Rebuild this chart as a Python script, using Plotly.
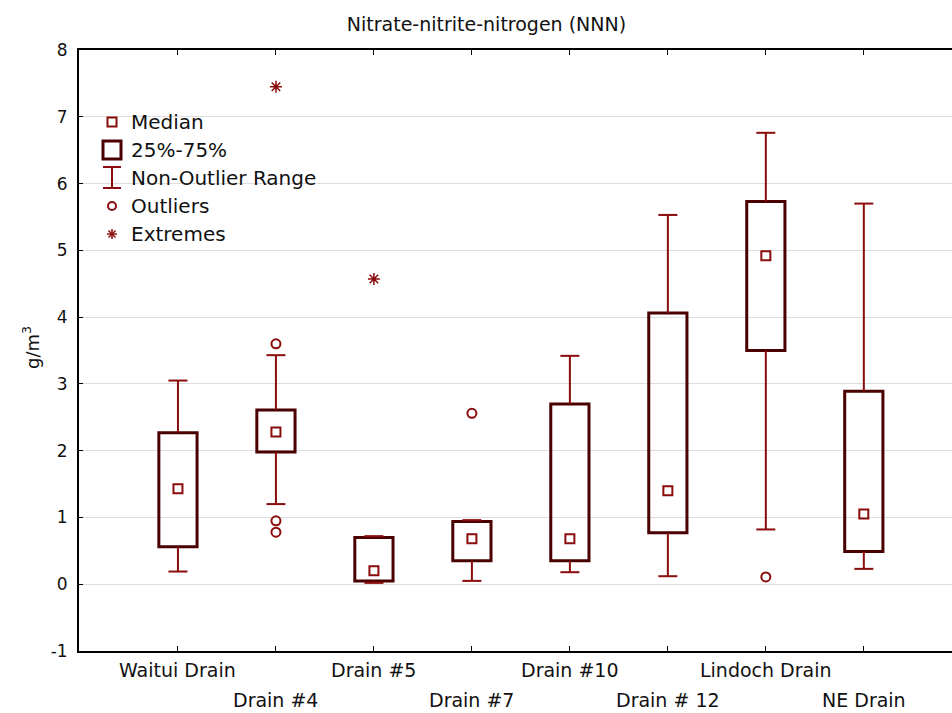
import plotly.graph_objects as go

# ---- data: nitrate-nitrite-nitrogen by drain (g/m3) ----
categories = ["Waitui Drain", "Drain #4", "Drain #5", "Drain #7",
              "Drain #10", "Drain # 12", "Lindoch Drain", "NE Drain"]
medians = [1.43, 2.28, 0.20, 0.68, 0.68, 1.40, 4.92, 1.05]
q1 = [0.56, 1.98, 0.05, 0.35, 0.35, 0.77, 3.50, 0.49]
q3 = [2.27, 2.61, 0.70, 0.94, 2.70, 4.06, 5.73, 2.89]
whisker_low = [0.19, 1.20, 0.02, 0.05, 0.18, 0.12, 0.82, 0.23]
whisker_high = [3.05, 3.43, 0.72, 0.96, 3.42, 5.53, 6.76, 5.70]

outlier_cat = ["Drain #4", "Drain #4", "Drain #4", "Drain #7", "Lindoch Drain"]
outlier_val = [3.60, 0.95, 0.78, 2.56, 0.11]
extreme_cat = ["Drain #4", "Drain #5"]
extreme_val = [7.45, 4.57]

y_ticks = [-1, 0, 1, 2, 3, 4, 5, 6, 7, 8]
y_tick_labels = ["-1", "0", "1", "2", "3", "4", "5", "6", "7", "8"]

# ---- styling ----
BOX_COLOR = "#4a0000"
MARK_COLOR = "#8a0c0c"
TEXT_COLOR = "#111111"
FONT = "DejaVu Sans"
W, H = 952, 713
ML, MR, MT, MB = 79, 0, 50, 62
PW, PH = W - ML - MR, H - MT - MB

BOX_W = 0.39
CAP_HALF = 0.097

xi = list(range(len(categories)))
idx = {c: i for i, c in enumerate(categories)}


def px_x(px):
    return (px - ML) / PW


def px_y(py):
    return (H - MB - py) / PH


fig = go.Figure()

# interquartile boxes
fig.add_trace(go.Bar(
    x=xi, base=q1, y=[b - a for a, b in zip(q1, q3)], width=BOX_W,
    marker=dict(color="rgba(255,255,255,0)", line=dict(color=BOX_COLOR, width=3)),
    hoverinfo="skip", showlegend=False,
))

# whiskers and caps
wx, wy = [], []
for i in xi:
    wx += [i, i, None, i, i, None]
    wy += [q3[i], whisker_high[i], None, q1[i], whisker_low[i], None]
    for v in (whisker_high[i], whisker_low[i]):
        wx += [i - CAP_HALF, i + CAP_HALF, None]
        wy += [v, v, None]
fig.add_trace(go.Scatter(
    x=wx, y=wy, mode="lines", line=dict(color=MARK_COLOR, width=2),
    hoverinfo="skip", showlegend=False,
))

# medians
fig.add_trace(go.Scatter(
    x=xi, y=medians, mode="markers",
    marker=dict(symbol="square-open", size=9, color=MARK_COLOR, line=dict(width=2)),
    showlegend=False,
))

# outliers
fig.add_trace(go.Scatter(
    x=[idx[c] for c in outlier_cat], y=outlier_val, mode="markers",
    marker=dict(symbol="circle-open", size=9, color=MARK_COLOR, line=dict(width=2)),
    showlegend=False,
))

# extremes
fig.add_trace(go.Scatter(
    x=[idx[c] for c in extreme_cat], y=extreme_val, mode="markers",
    marker=dict(symbol="asterisk-open", size=10, color=MARK_COLOR, line=dict(width=1.5)),
    showlegend=False,
))

# category labels on two staggered rows
annotations = []
for i, c in enumerate(categories):
    row_y = 670 if i % 2 == 0 else 700
    annotations.append(dict(
        x=i, xref="x", y=px_y(row_y), yref="paper", text=c, showarrow=False,
        xanchor="center", yanchor="middle",
        font=dict(family=FONT, size=19, color=TEXT_COLOR),
    ))

# y axis title
annotations.append(dict(
    x=px_x(31), xref="paper", y=px_y(348), yref="paper",
    text="g/m<sup>3</sup>", textangle=-90, showarrow=False,
    xanchor="center", yanchor="middle",
    font=dict(family=FONT, size=18, color=TEXT_COLOR),
))

# key
key_labels = ["Median", "25%-75%", "Non-Outlier Range", "Outliers", "Extremes"]
key_rows = [122, 150, 178, 206, 234]
for lab, ry in zip(key_labels, key_rows):
    annotations.append(dict(
        x=px_x(129), xref="paper", y=px_y(ry), yref="paper", text=lab,
        showarrow=False, xanchor="left", yanchor="middle",
        font=dict(family=FONT, size=20, color=TEXT_COLOR),
    ))

shapes = []
cx = 112


def rect(x0, y0, x1, y1, color, width):
    return dict(type="rect", xref="paper", yref="paper",
                x0=px_x(x0), x1=px_x(x1), y0=px_y(y0), y1=px_y(y1),
                line=dict(color=color, width=width), fillcolor="rgba(0,0,0,0)")


def seg(x0, y0, x1, y1, color, width):
    return dict(type="line", xref="paper", yref="paper",
                x0=px_x(x0), x1=px_x(x1), y0=px_y(y0), y1=px_y(y1),
                line=dict(color=color, width=width))


shapes.append(rect(cx - 4.5, 117.5, cx + 4.5, 126.5, MARK_COLOR, 2))
shapes.append(rect(cx - 9, 141, cx + 9, 159, BOX_COLOR, 3))
shapes.append(seg(cx, 167, cx, 188, MARK_COLOR, 2))
shapes.append(seg(cx - 9, 167, cx + 9, 167, MARK_COLOR, 2))
shapes.append(seg(cx - 9, 188, cx + 9, 188, MARK_COLOR, 2))
shapes.append(dict(type="circle", xref="paper", yref="paper",
                   x0=px_x(cx - 4), x1=px_x(cx + 4), y0=px_y(202), y1=px_y(210),
                   line=dict(color=MARK_COLOR, width=2)))
shapes.append(seg(cx - 5, 234, cx + 5, 234, MARK_COLOR, 1.5))
shapes.append(seg(cx, 229, cx, 239, MARK_COLOR, 1.5))
shapes.append(seg(cx - 3.5, 230.5, cx + 3.5, 237.5, MARK_COLOR, 1.5))
shapes.append(seg(cx - 3.5, 237.5, cx + 3.5, 230.5, MARK_COLOR, 1.5))

fig.update_layout(
    width=W, height=H,
    margin=dict(l=ML, r=MR, t=MT, b=MB, pad=0),
    paper_bgcolor="white", plot_bgcolor="white",
    barmode="overlay",
    title=dict(text="Nitrate-nitrite-nitrogen (NNN)", x=486.5 / W, xref="container",
               xanchor="center", y=1 - 24 / H, yref="container", yanchor="middle",
               font=dict(family=FONT, size=19, color=TEXT_COLOR)),
    xaxis=dict(range=[-1.01, 7.9], tickvals=xi, showticklabels=False,
               ticks="inside", ticklen=5, tickcolor="black", tickwidth=1,
               showline=True, linecolor="black", linewidth=2, mirror="ticks",
               showgrid=False, zeroline=False),
    yaxis=dict(range=[-1, 8], tickvals=y_ticks, ticktext=y_tick_labels,
               ticks="inside", ticklen=4,
               tickcolor="black", tickwidth=1, showline=True, linecolor="black",
               linewidth=2, showgrid=True, gridcolor="#dddddd", gridwidth=1,
               zeroline=False, ticklabelstandoff=6,
               tickfont=dict(family=FONT, size=17, color=TEXT_COLOR)),
    annotations=annotations,
    shapes=shapes,
    showlegend=False,
)

fig.write_html("out.html")
